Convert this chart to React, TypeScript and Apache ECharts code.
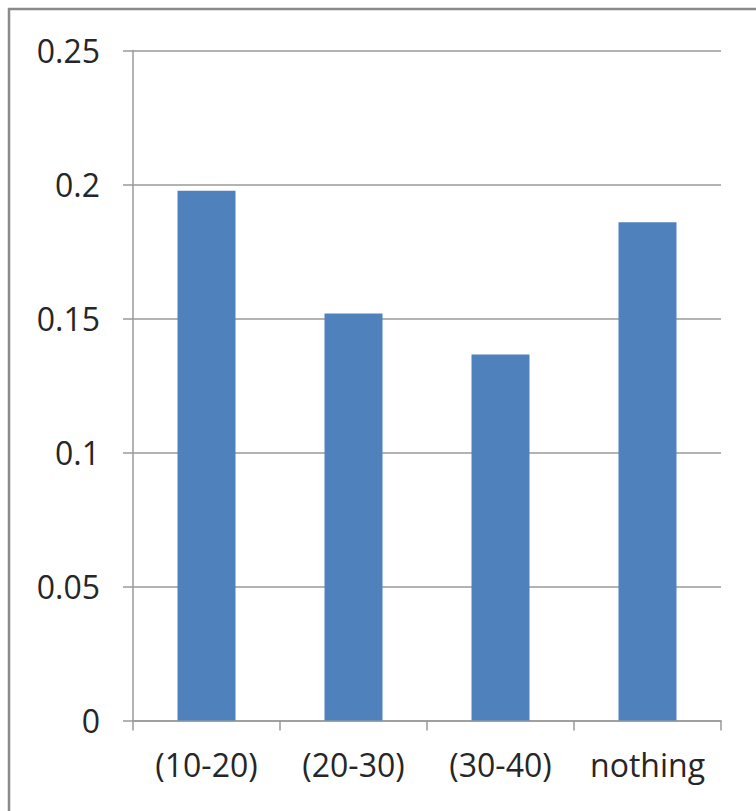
import React, { useEffect, useRef } from "react";
import * as echarts from "echarts";

const categories = ["(10-20)", "(20-30)", "(30-40)", "nothing"];
const values = [0.1977, 0.1519, 0.1366, 0.1859];
const yTicks = { min: 0, max: 0.25, interval: 0.05 };

export default function App() {
  const ref = useRef<HTMLDivElement>(null);
  useEffect(() => {
    document.body.style.margin = "0";
    const chart = echarts.init(ref.current!, null, { renderer: "svg" });
    const font = "Open Sans";
    chart.setOption({
      animation: false,
      backgroundColor: "#ffffff",
      grid: { left: 133, right: 35, top: 50.5, bottom: 90.5 },
      graphic: [
        {
          type: "rect",
          shape: { x: 9, y: 9, width: 760, height: 820 },
          style: { fill: "none", stroke: "#8a8a8a", lineWidth: 2.5 },
          silent: true,
        },
      ],
      xAxis: {
        type: "category",
        data: categories,
        axisLine: { show: true, lineStyle: { color: "#9a9a9a", width: 1.5 } },
        axisTick: { show: true, length: 10, lineStyle: { color: "#9a9a9a", width: 1.5 } },
        axisLabel: {
          color: "#262626",
          fontFamily: font,
          fontSize: 32,
          margin: 28,
          interval: 0,
          hideOverlap: false,
        },
      },
      yAxis: {
        type: "value",
        min: yTicks.min,
        max: yTicks.max,
        interval: yTicks.interval,
        axisLine: { show: true, lineStyle: { color: "#9a9a9a", width: 1.5 } },
        axisTick: { show: true, length: 10, lineStyle: { color: "#9a9a9a", width: 1.5 } },
        splitLine: { show: true, lineStyle: { color: "#9a9a9a", width: 1.5 } },
        axisLabel: {
          color: "#262626",
          fontFamily: font,
          fontSize: 32,
          margin: 33,
          formatter: (v: number) => String(parseFloat(v.toFixed(2))),
        },
      },
      series: [
        {
          type: "bar",
          data: values,
          barWidth: 58,
          itemStyle: { color: "#4f81bd" },
        },
      ],
    });
    return () => chart.dispose();
  }, []);
  return (
    <div
      ref={ref}
      style={{ position: "fixed", left: 0, top: 0, width: 756, height: 811 }}
    />
  );
}
